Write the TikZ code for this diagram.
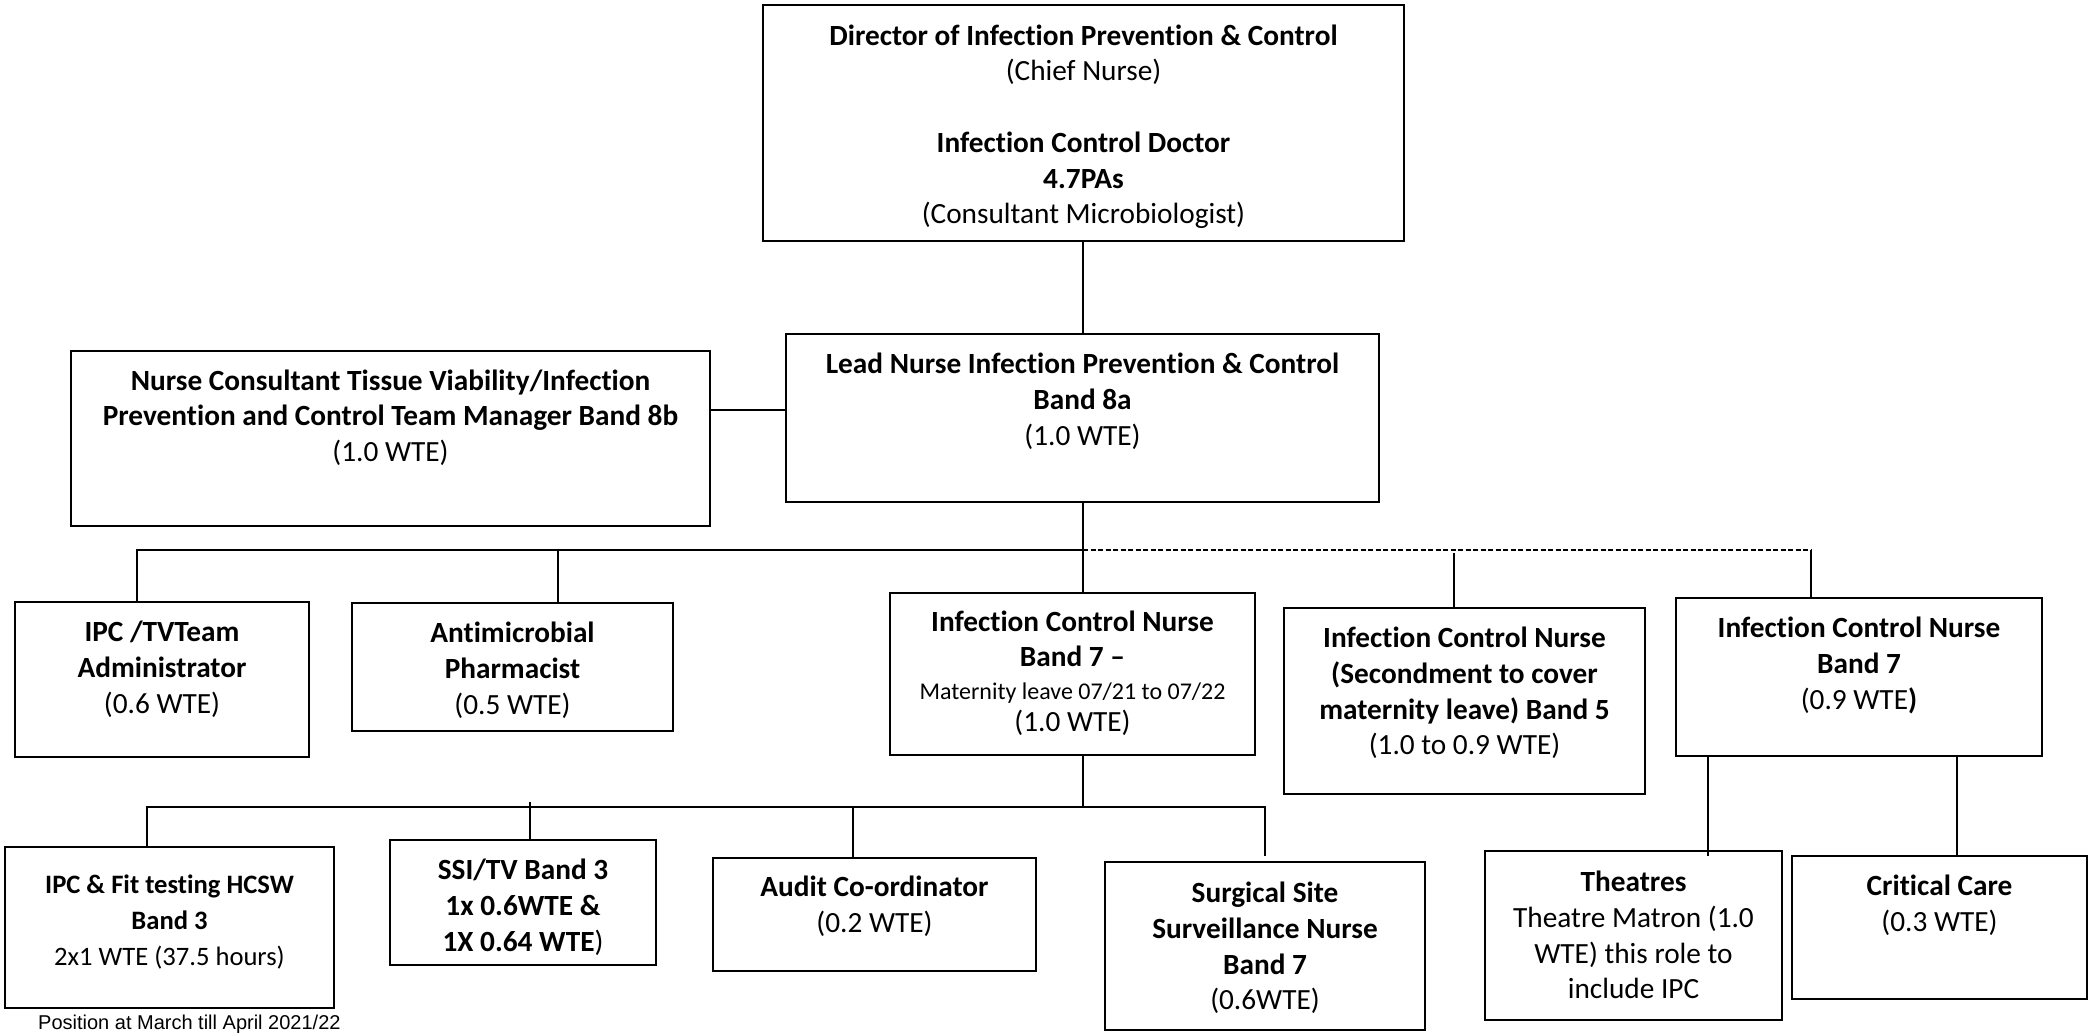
\documentclass[tikz,border=0pt]{standalone}
\usepackage{fontspec}
\setmainfont{Carlito}[Ligatures={TeX,NoCommon}]
\newfontfamily\capfont{Liberation Sans}
\newcommand\fl{\rule{0pt}{25pt}}
\newcommand\smallline[1]{{\fontsize{24pt}{29pt}\selectfont #1}}
\begin{document}
\begin{tikzpicture}[x=1pt,y=-1pt,
  box/.style={draw, line width=2.3pt, inner sep=0pt, outer sep=0pt, anchor=north west},
  txt/.style={anchor=north, align=center, inner sep=0pt, font=\fontsize{29.3pt}{35.7pt}\selectfont},
  txtsmall/.style={anchor=north, align=center, inner sep=0pt, font=\fontsize{26.6pt}{36pt}\selectfont},
  conn/.style={line width=1.8pt},
  dashconn/.style={line width=1.8pt, dash pattern=on 5pt off 2.5pt}]
\useasboundingbox (0,0) rectangle (2089,1033);
\fill[white] (0,0) rectangle (2089,1033);

% boxes
\node[box, minimum width=641pt, minimum height=236pt] (dir) at (763,5) {};
\node[box, minimum width=639pt, minimum height=175pt] (ncon) at (71,351) {};
\node[box, minimum width=593pt, minimum height=168pt] (lead) at (786,334) {};
\node[box, minimum width=294pt, minimum height=155pt] (admin) at (15,602) {};
\node[box, minimum width=321pt, minimum height=128pt] (anti) at (352,603) {};
\node[box, minimum width=365pt, minimum height=162pt] (icnm) at (890,593) {};
\node[box, minimum width=361pt, minimum height=186pt] (sec) at (1284,608) {};
\node[box, minimum width=366pt, minimum height=158pt] (icn9) at (1676,598) {};
\node[box, minimum width=329pt, minimum height=161pt] (fit) at (5,847) {};
\node[box, minimum width=266pt, minimum height=125pt] (ssi) at (390,840) {};
\node[box, minimum width=323pt, minimum height=113pt] (audit) at (713,858) {};
\node[box, minimum width=320pt, minimum height=168pt] (surg) at (1105,862) {};
\node[box, minimum width=297pt, minimum height=169pt] (theat) at (1485,851) {};
\node[box, minimum width=295pt, minimum height=143pt] (crit) at (1792,856) {};

% texts
\node[txt] (dirT) at ([yshift=-15pt]dir.north) {\fl\textbf{Director of Infection Prevention \& Control}\\(Chief Nurse)\\[35.7pt]\textbf{Infection Control Doctor}\\\textbf{4.7PAs}\\(Consultant Microbiologist)};
\node[txt] (nconT) at ([yshift=-14pt]ncon.north) {\fl\textbf{Nurse Consultant Tissue Viability/Infection}\\\textbf{Prevention and Control Team Manager Band 8b}\\(1.0 WTE)};
\node[txt] (leadT) at ([yshift=-14.5pt]lead.north) {\fl\textbf{Lead Nurse Infection Prevention \& Control}\\\textbf{Band 8a}\\(1.0 WTE)};
\node[txt] (adminT) at ([yshift=-14.5pt]admin.north) {\fl\textbf{IPC /TVTeam}\\\textbf{Administrator}\\(0.6 WTE)};
\node[txt] (antiT) at ([yshift=-14.5pt]anti.north) {\fl\textbf{Antimicrobial}\\\textbf{Pharmacist}\\(0.5 WTE)};
\node[txt] (icnmT) at ([yshift=-13pt]icnm.north) {\fl\textbf{Infection Control Nurse}\\\textbf{Band 7 –}\\[-3.5pt]\smallline{Maternity leave 07/21 to 07/22}\\[-3.5pt](1.0 WTE)};
\node[txt] (secT) at ([yshift=-14.5pt]sec.north) {\fl\textbf{Infection Control Nurse}\\\textbf{(Secondment to cover}\\\textbf{maternity leave) Band 5}\\(1.0 to 0.9 WTE)};
\node[txt] (icn9T) at ([yshift=-14.5pt]icn9.north) {\fl\textbf{Infection Control Nurse}\\\textbf{Band 7}\\(0.9 WTE\textbf{)}};
\node[txtsmall] (fitT) at ([yshift=-21.5pt]fit.north) {\fl\textbf{IPC \& Fit testing HCSW}\\\textbf{Band 3}\\2x1 WTE (37.5 hours)};
\node[txt] (ssiT) at ([yshift=-14.5pt]ssi.north) {\fl\textbf{SSI/TV Band 3}\\\textbf{1x 0.6WTE \&}\\\textbf{1X 0.64 WTE})};
\node[txt] (auditT) at ([yshift=-13.5pt]audit.north) {\fl\textbf{Audit Co-ordinator}\\(0.2 WTE)};
\node[txt] (surgT) at ([yshift=-15.5pt]surg.north) {\fl\textbf{Surgical Site}\\\textbf{Surveillance Nurse}\\\textbf{Band 7}\\(0.6WTE)};
\node[txt] (theatT) at ([yshift=-15.5pt]theat.north) {\fl\textbf{Theatres}\\Theatre Matron (1.0\\WTE) this role to\\include IPC};
\node[txt] (critT) at ([yshift=-14.5pt]crit.north) {\fl\textbf{Critical Care}\\(0.3 WTE)};

\node[anchor=base west, inner sep=0pt, font=\capfont\fontsize{20pt}{24pt}\selectfont] (cap) at (38,1029) {Position at March till April 2021/22};

% connector coordinates
\coordinate (h1) at (0,410);
\coordinate (busA) at (137,550);
\coordinate (busB) at (558,550);
\coordinate (busC) at (1083,550);
\coordinate (busD) at (1454,553);
\coordinate (busE) at (1811,550);
\coordinate (busF) at (147,807);
\coordinate (busG) at (530,802);
\coordinate (busH) at (853,807);
\coordinate (busI) at (1265,807);
\coordinate (busI2) at (1265,856);
\coordinate (t1) at (1708,856);
\coordinate (t2) at (1957,856);

% connectors
\draw[conn] (busC |- dir.south) -- (busC |- lead.north);
\draw[conn] (ncon.east |- h1) -- (lead.west |- h1);
\draw[conn] (busA |- admin.north) -- (busA) -- (busC);
\draw[conn] (busB) -- (busB |- anti.north);
\draw[conn] (busC |- lead.south) -- (busC |- icnm.north);
\draw[dashconn] (busC) -- (busE);
\draw[conn] (busD) -- (busD |- sec.north);
\draw[conn] (busE) -- (busE |- icn9.north);
\draw[conn] (busC |- icnm.south) -- (busC |- busF);
\draw[conn] (busF |- fit.north) -- (busF) -- (busI) -- (busI2);
\draw[conn] (busG) -- (busG |- ssi.north);
\draw[conn] (busH) -- (busH |- audit.north);
\draw[conn] (t1 |- icn9.south) -- (t1);
\draw[conn] (t2 |- icn9.south) -- (t2 |- crit.north);
\end{tikzpicture}
\end{document}
